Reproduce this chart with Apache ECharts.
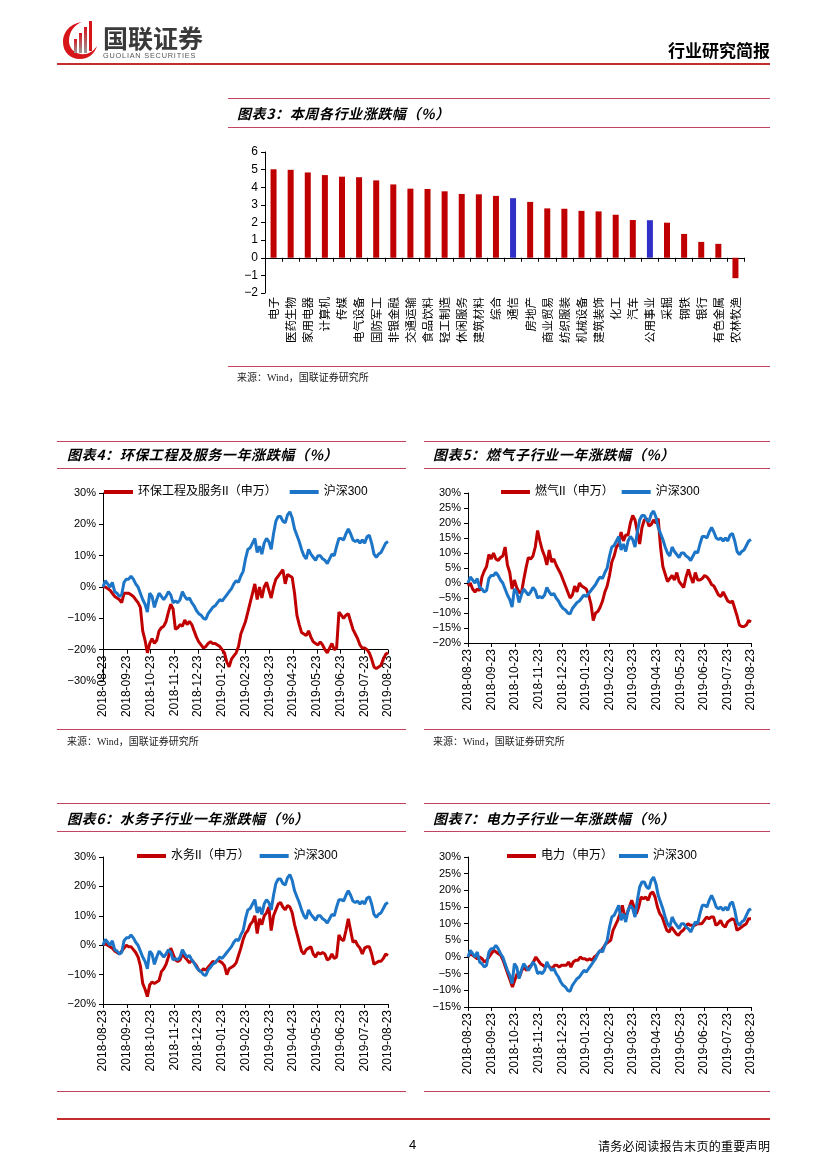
<!DOCTYPE html>
<html><head><meta charset="utf-8">
<script src="https://cdn.jsdelivr.net/npm/echarts/dist/echarts.min.js"></script>
<style>
html,body{margin:0;padding:0;background:#fff}
body{width:827px;height:1169px;position:relative;overflow:hidden;font-family:"Noto Sans CJK SC","Liberation Sans",sans-serif;color:#000}
.a{position:absolute;white-space:nowrap}
.ln{position:absolute;height:1px;background:#C4435F}
.ttl{position:absolute;font-size:14px;font-weight:bold;font-style:italic;line-height:18px;white-space:nowrap;letter-spacing:0.6px}
.src{position:absolute;font-size:10px;line-height:12px;white-space:nowrap;color:#222;font-family:"Liberation Serif","Noto Sans CJK SC",serif}
.ch{position:absolute;left:0;top:0;width:827px;height:1169px}
#err{position:absolute;left:10px;top:1150px;font-size:9px;color:#f00;white-space:pre;width:800px;overflow:hidden}
</style></head>
<body>
<div id="c0" class="ch"></div><div id="c1" class="ch"></div><div id="c2" class="ch"></div><div id="c3" class="ch"></div><div id="c4" class="ch"></div>

<!-- header -->
<svg class="a" style="left:62px;top:19px" width="38" height="42" viewBox="0 0 38 42">
  <defs><linearGradient id="bg" x1="0" y1="0" x2="0" y2="1"><stop offset="0" stop-color="#D7141A"/><stop offset="1" stop-color="#9a9a9a"/></linearGradient></defs>
  <path d="M20 3 C6 5 1 15 1 23 C1 33 8 40 18 40 C27 40 33 34 35 27 C31 33 25 36 19 35 C11 34 7 28 7 22 C7 13 12 6 20 3 Z" fill="#D7141A"/>
  <rect x="12" y="20" width="3" height="14" fill="url(#bg)"/>
  <rect x="17" y="14" width="3" height="20" fill="url(#bg)"/>
  <rect x="22" y="8" width="3" height="26" fill="url(#bg)"/>
  <rect x="27" y="2" width="3" height="30" fill="#D7141A"/>
</svg>
<div class="a" style="left:103px;top:24px;font-size:25px;font-weight:bold;color:#3a3a3a;line-height:26px">国联证券</div>
<div class="a" style="left:103px;top:52px;font-size:7.3px;letter-spacing:0.8px;color:#555;line-height:8px;font-family:'Liberation Sans',sans-serif">GUOLIAN SECURITIES</div>
<div class="a" style="left:668px;top:40px;font-size:17px;font-weight:bold;line-height:20px">行业研究简报</div>
<div class="a" style="left:57px;top:63px;width:713px;height:2px;background:#C62D2D"></div>

<div class="ln" style="left:228px;top:98px;width:542px"></div>
<div class="ttl" style="left:237px;top:104px">图表3：本周各行业涨跌幅（%）</div>
<div class="ln" style="left:228px;top:127px;width:542px"></div>
<div class="ln" style="left:228px;top:366px;width:542px"></div>
<div class="src" style="left:237px;top:372px">来源：Wind，国联证券研究所</div>

<div class="ln" style="left:57px;top:441px;width:349px"></div>
<div class="ttl" style="left:67px;top:445px">图表4：环保工程及服务一年涨跌幅（%）</div>
<div class="ln" style="left:57px;top:468px;width:349px"></div>
<div class="ln" style="left:57px;top:729px;width:349px"></div>
<div class="src" style="left:67px;top:736px">来源：Wind，国联证券研究所</div>

<div class="ln" style="left:424px;top:441px;width:346px"></div>
<div class="ttl" style="left:433px;top:445px">图表5：燃气子行业一年涨跌幅（%）</div>
<div class="ln" style="left:424px;top:468px;width:346px"></div>
<div class="ln" style="left:424px;top:729px;width:346px"></div>
<div class="src" style="left:433px;top:736px">来源：Wind，国联证券研究所</div>

<div class="ln" style="left:57px;top:803px;width:349px"></div>
<div class="ttl" style="left:67px;top:809px">图表6：水务子行业一年涨跌幅（%）</div>
<div class="ln" style="left:57px;top:831px;width:349px"></div>
<div class="ln" style="left:57px;top:1091px;width:349px"></div>

<div class="ln" style="left:424px;top:803px;width:346px"></div>
<div class="ttl" style="left:433px;top:809px">图表7：电力子行业一年涨跌幅（%）</div>
<div class="ln" style="left:424px;top:831px;width:346px"></div>
<div class="ln" style="left:424px;top:1091px;width:346px"></div>

<div class="a" style="left:57px;top:1118px;width:713px;height:2px;background:#C62D2D"></div>
<div class="a" style="left:409px;top:1137px;font-size:13px;line-height:16px;font-family:'Liberation Sans',sans-serif">4</div>
<div class="a" style="left:598px;top:1138px;font-size:12px;line-height:15px;letter-spacing:0.3px">请务必阅读报告末页的重要声明</div>
<div id="err"></div>

<script>
// ---------- data ----------
const industries = ['电子','医药生物','家用电器','计算机','传媒','电气设备','国防军工','非银金融','交通运输','食品饮料','轻工制造','休闲服务','建筑材料','综合','通信','房地产','商业贸易','纺织服装','机械设备','建筑装饰','化工','汽车','公用事业','采掘','钢铁','银行','有色金属','农林牧渔'];
const weeklyChange = [5.02,4.99,4.84,4.69,4.60,4.57,4.39,4.16,3.92,3.90,3.77,3.62,3.60,3.51,3.38,3.17,2.80,2.78,2.66,2.63,2.44,2.14,2.13,1.99,1.35,0.90,0.79,-1.16];
const highlighted = ['通信','公用事业'];

const dateTicks = ['2018-08-23','2018-09-23','2018-10-23','2018-11-23','2018-12-23','2019-01-23','2019-02-23','2019-03-23','2019-04-23','2019-05-23','2019-06-23','2019-07-23','2019-08-23'];

const hs300 = [0,2,1,0,1.5,-1.5,-2,-3,-2.5,1.5,2.5,2.5,3.5,2.5,1,0,-2,-4,-5.5,-8,-2,-3,-6.5,-4,-2,-3,-4,-3,-1.5,-2.5,
 -5,-4.5,-5,-4,-1.5,-3,-4,-3.5,-5,-6,-7.5,-8.5,-9,-10,-10.3,-8.5,-7.5,-6.5,-6,-5,-4,-4.5,-3.5,-2.5,-1.5,-0.5,1,2,1.5,3.5,
 5,9,12,12.5,14,15.5,11,13,10.5,14,15.5,14.5,12,17,21,22.5,22.5,21,20.5,23,24,22,18.5,16.5,14.5,12,10,9,12,10.5,
 9.5,8.5,10,10,9,8.5,7.5,9,10.5,10,13,15.5,15.5,15,17,18.5,17,15,14.5,15,14,15,14,16,16.5,14,10.5,9.5,10.5,11,
 12.5,14,14.5];

const huanbao = [0,0,-0.5,-1,-2,-3,-3.5,-4,-5,-2,-2,-2,-2.5,-3,-4,-5,-6.5,-14,-17,-21,-18,-16.5,-18,-17,-14,-13,-12.5,-11,-8,-5.5,
 -7,-13.5,-13,-12,-12.5,-10.5,-12,-11,-12,-14,-16,-17.5,-18.5,-19.5,-19,-18,-17.5,-18,-18,-18.5,-19,-20,-21,-24,-25.5,-23,-22,-21,-19,-15,
 -13,-11,-8,-5,-2,1,-4,0,-3.5,0,1.5,-1,-3.5,0,2.5,3.5,4.5,5.5,1,4,3.5,3,-2,-9,-12,-14.5,-15,-15.5,-14,-16,
 -17.5,-18,-18.5,-17.5,-18.5,-20,-21,-19.5,-18,-20,-19.5,-8,-9,-10,-9,-8.5,-11,-13.5,-15,-16.5,-18.5,-19.5,-19.5,-20,-21,-23,-25.5,-26,-25.5,-25,
 -23,-21.5,-21];

const ranqi = [-1,0,-2,-3,-2,-2.5,2,4,5.5,9.5,8,10,8,7.5,8.5,9,12,6,3.5,-2,1,-1.5,-3,-3.5,1,5,8.5,8,9,12,
 17.5,14,11,9,6,11,7,8,6,4.5,3,1,-1,-3,-5,-4,-1,-3,0,-1,-1.5,-2,-4,-7,-12.5,-10,-9.5,-8,-6,-3,
 -1,2.5,7,9,12,13,17,14,16,16,20,22.5,21,17,13,18.5,21,21.5,19,19.5,21,20,21.5,12,5.5,3,0.5,1.5,2.5,1,
 3.5,0.5,-0.5,-1.5,2,4.5,2,0,3.5,1,1,1.5,2.5,2,1,-0.5,-1,-2.5,-4,-4.5,-3,-4.5,-6,-6.5,-6,-8.5,-11,-14,-14.5,-14.5,
 -14,-12.5,-13];

const shuiwu = [0,0.5,0,-0.5,-1,-2,-2.5,-3,-2,-1,0,-0.5,-0.5,-1.5,-2.5,-4,-7,-13,-15,-17.5,-13.5,-12.5,-13,-12.5,-12,-9,-8,-6.5,-4,-1,
 -3,-5,-5.5,-5,-3,-4,-5,-6,-5,-6,-7,-8.5,-9,-8,-8.5,-7.5,-6.5,-5.5,-6,-5,-5.5,-6,-7,-10,-8,-7.5,-7,-6,-3.5,-1,
 2,4,5,7,8,10,4,9,7,10,11,13,5,10,12,14,14.5,13,12,13.5,13,11,7,4,1,-2,-3,-1.5,-1,-0.5,
 -3,-4,-2.5,-3,-2.5,-3,-5,-4.5,-3,-4.5,-4,3.5,2,1.5,5,9,5,1,1.5,0,-1,-3,-1,-0.5,-0.5,-3,-6.5,-6,-5.5,-5.5,
 -4.5,-3,-3.5];

const dianli = [0,1,0.5,0,-0.5,0,-0.5,-1.5,-1,0,1,2,1.5,1,0.5,-1,-3,-5,-7,-9,-7,-5,-6,-4,-3,-4,-3,-2.5,-1.5,0,
 -1,-2,-2.5,-3,-2.5,-3,-3.5,-2.5,-2.5,-3,-2.5,-2.5,-2.5,-1.5,-3,-1.5,-1,-1,0,-0.5,-0.5,-1,-0.5,-1,0,0.5,1.5,2,3,4,
 4.5,5,8,9.5,11,13,15.5,12,13,15,17,15,13,15,18,17.5,18,17,19,19.5,18,15,13,12,10,8,7.5,9,8,7,
 6.5,7.5,8,9,10,9.5,9.5,9.5,10,10,10,11,12,11.5,12,12,9.5,10,11,9.5,9,10.5,11,11.5,11,8,8.5,9,9.5,10,
 11.5,11.5];

// ---------- rendering ----------
const FONT = "'Liberation Sans','Noto Sans CJK SC',sans-serif";
const RED = '#C00000', BLUE = '#1C75C6', BARRED = '#C00000', BARBLUE = '#3030C8';
const neg = v => (v < 0 ? '\u2212' : '') + Math.abs(v);
const pct = v => neg(v) + '%';
const toPairs = arr => arr.map((v, i) => [i * (dateTicks.length - 1) / (arr.length - 1), v]);
const errBox = document.getElementById('err');
function render(id, opt) {
  try {
    const ch = echarts.init(document.getElementById(id), null, {renderer:'canvas'});
    ch.setOption(opt);
  } catch (e) {
    errBox.textContent += id + ': ' + (e && e.stack ? e.stack.split('\n').slice(0,4).join(' | ') : e) + '\n';
  }
}
const blackLine = () => ({show:true, onZero:false, lineStyle:{color:'#000', width:1}});

// chart 3: bars
render('c0', {
  backgroundColor:'transparent', animation:false,
  grid:{left:265, top:152, width:479, height:141},
  xAxis:[
    {type:'category', data:industries, position:'bottom',
     axisLine:{show:true, onZero:true, lineStyle:{color:'#000', width:1}},
     axisTick:{show:true, length:4, interval:0, lineStyle:{color:'#000'}},
     axisLabel:{show:false}, splitLine:{show:false}},
    {type:'category', data:industries, position:'bottom',
     axisLine:{show:false, onZero:false}, axisTick:{show:false},
     axisLabel:{show:true, interval:0, rotate:90, margin:4, fontSize:11.5, color:'#000', fontFamily:"'Noto Sans CJK SC',sans-serif"},
     splitLine:{show:false}}
  ],
  yAxis:{type:'value', min:-2, max:6, interval:1,
     axisLine:blackLine(), axisTick:{show:true, length:4, lineStyle:{color:'#000'}},
     axisLabel:{formatter:neg, fontSize:12, color:'#000', margin:7, fontFamily:FONT}, splitLine:{show:false}},
  series:[{type:'bar', xAxisIndex:0, yAxisIndex:0, barWidth:6,
     data:weeklyChange.map((v, i) => ({value:v, itemStyle:{color: highlighted.includes(industries[i]) ? BARBLUE : BARRED}}))}]
});

const lineCharts = [
  {id:'c1', name:'环保工程及服务II（申万）', data:huanbao, grid:{left:103,top:493,width:285,height:188}, min:-30, max:30, step:10, xOffset:-31.3, legendLeft:104, legendTop:486, gap:13},
  {id:'c2', name:'燃气II（申万）', data:ranqi, grid:{left:468,top:493,width:283,height:150}, min:-20, max:30, step:5, xOffset:0, legendLeft:501, legendTop:486, gap:8},
  {id:'c3', name:'水务II（申万）', data:shuiwu, grid:{left:103,top:857,width:285,height:147}, min:-20, max:30, step:10, xOffset:0, legendLeft:137, legendTop:850, gap:10},
  {id:'c4', name:'电力（申万）', data:dianli, grid:{left:468,top:857,width:283,height:150}, min:-15, max:30, step:5, xOffset:0, legendLeft:507, legendTop:850, gap:6}
];

lineCharts.forEach(c => {
  render(c.id, {
    backgroundColor:'transparent', animation:false,
    grid:c.grid,
    legend:{left:c.legendLeft, top:c.legendTop, padding:0, itemGap:c.gap, itemWidth:29, itemHeight:4, icon:'rect',
      data:[c.name, '沪深300'], textStyle:{fontSize:12, color:'#000', fontFamily:FONT}, selectedMode:false},
    xAxis:{type:'value', min:0, max:dateTicks.length - 1, interval:1, position:'bottom', offset:c.xOffset,
      axisLine:blackLine(), axisTick:{show:true, length:4, lineStyle:{color:'#000'}},
      axisLabel:{rotate:90, margin:6, fontSize:12, color:'#000', fontFamily:FONT, formatter:v => dateTicks[Math.round(v)]},
      splitLine:{show:false}},
    yAxis:{type:'value', min:c.min, max:c.max, interval:c.step,
      axisLine:blackLine(), axisTick:{show:true, length:4, lineStyle:{color:'#000'}},
      axisLabel:{formatter:pct, fontSize:11, color:'#000', margin:7, fontFamily:FONT}, splitLine:{show:false}},
    series:[
      {type:'line', name:c.name, data:toPairs(c.data), showSymbol:false, symbol:'none', color:RED, lineStyle:{color:RED, width:3}, z:3},
      {type:'line', name:'沪深300', data:toPairs(hs300), showSymbol:false, symbol:'none', color:BLUE, lineStyle:{color:BLUE, width:3}, z:4}
    ]
  });
});
</script>
</body></html>
